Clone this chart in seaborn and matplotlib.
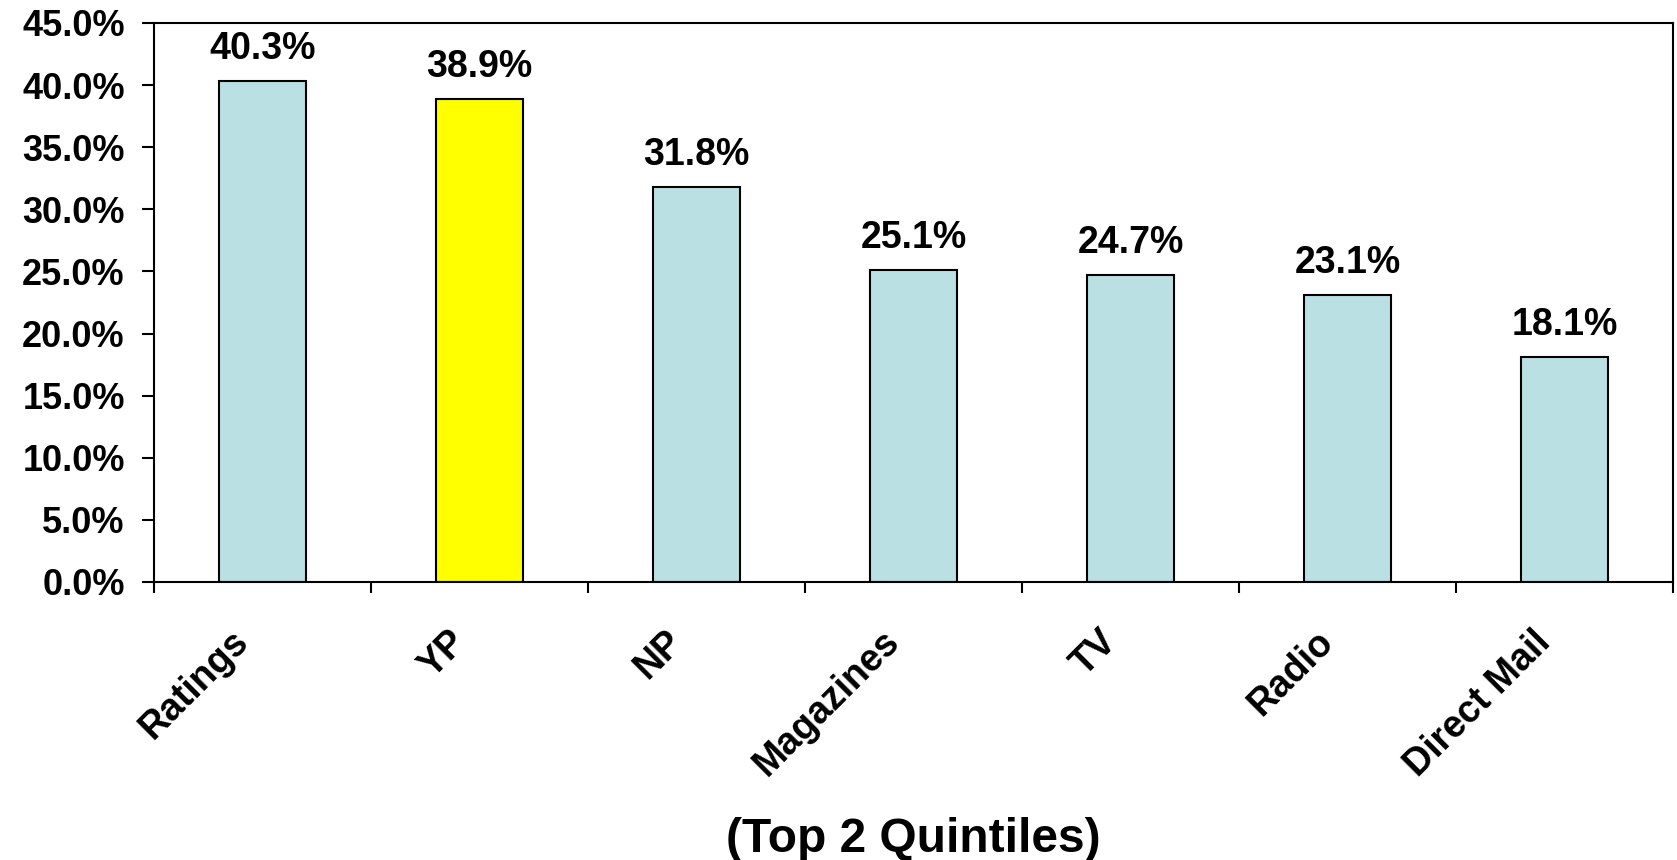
import matplotlib
matplotlib.use("Agg")
import matplotlib.pyplot as plt
import matplotlib.transforms as mtransforms
import seaborn as sns
import pandas as pd
from matplotlib.ticker import FixedLocator, FuncFormatter

# data
categories = ["Ratings", "YP", "NP", "Magazines", "TV", "Radio", "Direct Mail"]
values = [40.3, 38.9, 31.8, 25.1, 24.7, 23.1, 18.1]
bar_colors = ["#BBE0E3", "#FFFF00", "#BBE0E3", "#BBE0E3", "#BBE0E3", "#BBE0E3", "#BBE0E3"]

df = pd.DataFrame({"media": categories, "pct": values})

sns.set_style("ticks")
plt.rcParams["font.family"] = ["Liberation Sans", "DejaVu Sans"]
plt.rcParams["font.weight"] = "bold"
for k in ["text.color", "axes.labelcolor", "xtick.color", "ytick.color", "axes.edgecolor"]:
    plt.rcParams[k] = "black"

fig = plt.figure(figsize=(16.77, 8.60), dpi=100)
ax = fig.add_axes([0.0918, 0.3233, 0.9058, 0.65])

sns.barplot(data=df, x="media", y="pct", hue="media",
            palette=dict(zip(categories, bar_colors)), saturation=1,
            width=0.4, edgecolor="black", linewidth=1.5,
            legend=False, ax=ax)

for c in ax.containers:
    ax.bar_label(c, fmt="%.1f%%", padding=10, fontsize=27, fontweight="bold")

ax.set_xlim(-0.5, len(categories) - 0.5)
ax.set_ylim(0, 45)
ax.set_yticks(range(0, 46, 5))
ax.yaxis.set_major_formatter(FuncFormatter(lambda v, p: f"{v:.1f}%"))
ax.tick_params(axis="y", labelsize=26, length=9, width=1.5, direction="out", pad=12)

# category labels in the middle, tick marks at the boundaries
ax.tick_params(axis="x", which="major", length=0, labelsize=27, pad=30)
ax.xaxis.set_minor_locator(FixedLocator([i - 0.5 for i in range(len(categories) + 1)]))
ax.tick_params(axis="x", which="minor", length=8, width=1.5, direction="out")
shift = mtransforms.ScaledTranslation(-32 / 100, 0, fig.dpi_scale_trans)
for lab in ax.get_xticklabels():
    lab.set_rotation(45)
    lab.set_ha("right")
    lab.set_rotation_mode("anchor")
    lab.set_fontweight("bold")
    lab.set_transform(lab.get_transform() + shift)

for s in ax.spines.values():
    s.set_visible(True)
    s.set_linewidth(1.5)
    s.set_color("black")

ax.set_ylabel("")
ax.set_xlabel("(Top 2 Quintiles)", fontsize=34.5, fontweight="bold")
ax.xaxis.set_label_coords(0.5, -0.42)

fig.savefig("out.png", dpi=100)
